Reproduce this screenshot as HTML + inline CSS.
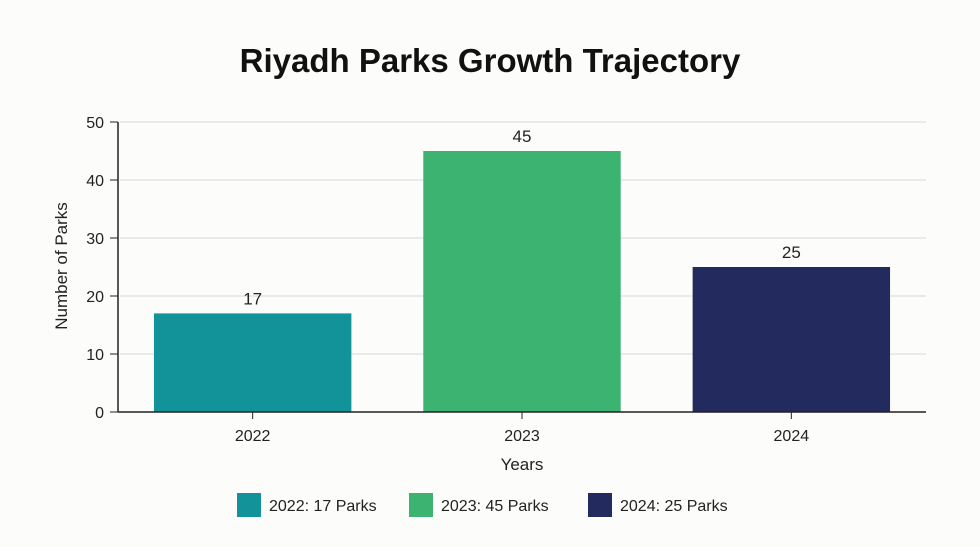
<!DOCTYPE html>
<html><head><meta charset="utf-8"><style>
html,body{margin:0;padding:0;background:#fcfcfa;}
svg{display:block;font-family:"Liberation Sans",sans-serif;}
</style></head><body>
<svg id="chart" width="980" height="547" viewBox="0 0 980 547">
<rect width="980" height="547" fill="#fcfcfa"/>
<text x="490" y="72" text-anchor="middle" font-size="33" font-weight="bold" fill="#111">Riyadh Parks Growth Trajectory</text>
<g id="grid"></g><g id="bars"></g><g id="axes"></g>
<text x="522" y="470" text-anchor="middle" font-size="17" fill="#222">Years</text>
<text transform="translate(67,266) rotate(-90)" text-anchor="middle" font-size="17" fill="#222">Number of Parks</text>
<g id="legend"></g>
</svg>
<script>
const categories = ["2022","2023","2024"];
const values = [17,45,25];
const colors = ["#12939a","#3cb371","#232b5e"];
const yTicks = [0,10,20,30,40,50];
const legendLabels = ["2022: 17 Parks","2023: 45 Parks","2024: 25 Parks"];

const NS="http://www.w3.org/2000/svg";
const L=118,R=926,T=122,B=412,yMax=50;
const y=v=>B-(v/yMax)*(B-T);
const band=(R-L)/categories.length;
const x=i=>L+band*(i+0.5);
const bw=band*0.733;
function mk(tag,attrs,parent,text){const e=document.createElementNS(NS,tag);for(const k in attrs)e.setAttribute(k,attrs[k]);if(text!==undefined)e.textContent=text;document.getElementById(parent).appendChild(e);return e;}
yTicks.forEach(t=>{
  if(t>0){const g=mk("line",{x1:L+2,x2:R,y1:y(t),y2:y(t),stroke:"#d9d9d9","stroke-width":1},"grid");
  
  }
  const tk=mk("line",{x1:L-8,x2:L,y1:y(t),y2:y(t),stroke:"#222","stroke-width":1},"axes");
  
  
  const lb=mk("text",{x:L-14,y:y(t)+6,"text-anchor":"end","font-size":16,fill:"#222"},"axes",String(t));
  
  
});
const ya=mk("line",{x1:L,x2:L,y1:T,y2:B,stroke:"#222","stroke-width":1.5},"axes");


const xa=mk("line",{x1:L,x2:R,y1:B,y2:B,stroke:"#222","stroke-width":1.5},"axes");


categories.forEach((c,i)=>{
  const b=mk("rect",{x:x(i)-bw/2,y:y(values[i]),width:bw,height:B-y(values[i]),fill:colors[i]},"bars");
  
  
  const v=mk("text",{x:x(i),y:y(values[i])-9,"text-anchor":"middle","font-size":17,fill:"#222"},"bars",String(values[i]));
  
  
  const tk=mk("line",{x1:x(i),x2:x(i),y1:B,y2:B+7,stroke:"#222"},"axes");
  
  
  const lb=mk("text",{x:x(i),y:B+29,"text-anchor":"middle","font-size":16,fill:"#222"},"axes",c);
  
  
});
const lx=[237,409,588];
legendLabels.forEach((t,i)=>{
  const s=mk("rect",{x:lx[i],y:493,width:24,height:24,fill:colors[i]},"legend");
  
  
  const tx=mk("text",{x:lx[i]+32,y:511,"font-size":16,fill:"#222"},"legend",t);
  
  
});
</script>
</body></html>
